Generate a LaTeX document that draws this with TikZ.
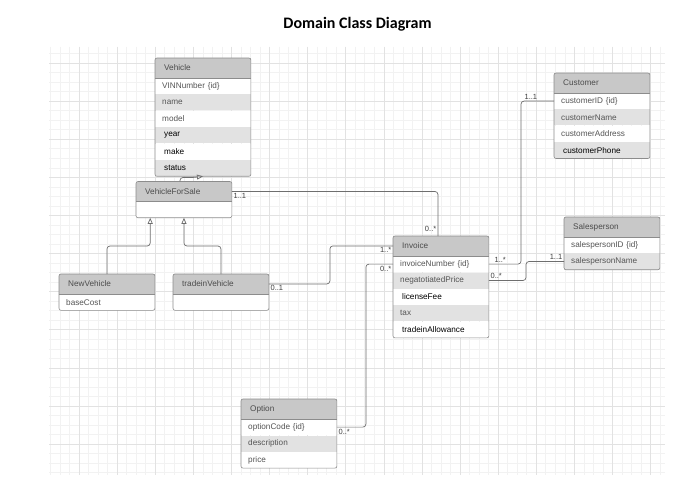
\documentclass[tikz,border=0pt]{standalone}
\usepackage{fontspec}
\setmainfont{Liberation Sans}
\newfontfamily\titlefont{Carlito}
\usetikzlibrary{arrows.meta}

\definecolor{headgray}{HTML}{C8C8C8}
\definecolor{rowgray}{HTML}{E2E2E2}
\definecolor{edgegray}{HTML}{8C8C8C}
\definecolor{linkgray}{HTML}{6E6E6E}
\definecolor{txtgray}{HTML}{555555}
\definecolor{gridminor}{HTML}{F2F2F2}
\definecolor{gridmajor}{HTML}{E2E2E2}

\tikzset{
  cls/.style={anchor=north west, minimum width=95.5pt, inner xsep=7pt, inner ysep=0pt,
    text width=81.5pt, align=left, font=\fontsize{8.2}{9.5}\selectfont, text=txtgray},
  head/.style={cls, fill=headgray, minimum height=19.5pt, inner xsep=9pt, text width=77.5pt, text=black!70},
  attr/.style={cls, fill=white, minimum height=16pt},
  attrs/.style={attr, fill=rowgray},
  dark/.style={text=black, inner xsep=9pt, text width=77.5pt},
  frame/.style={draw=edgegray, rounded corners=2pt, line width=0.6pt},
  link/.style={draw=linkgray, line width=0.7pt, rounded corners=3pt},
  gen/.style={link, -{Triangle[open, width=5pt, length=6pt]}},
  mult/.style={font=\fontsize{7.5}{8}\selectfont, text=black!75, inner sep=1.5pt},
}

\begin{document}
\begin{tikzpicture}[x=1pt, y=-1pt]
    \useasboundingbox (0,0) rectangle (679,486);
    \fill[white] (0,0) rectangle (679,486);

    % background grid (minor, then major lines)
    \foreach \i in {0,...,64} {
        \draw[gridminor, line width=0.5pt] ({50.4+9.525*\i},47) -- ({50.4+9.525*\i},475);
    }
    \foreach \j in {0,...,44} {
        \draw[gridminor, line width=0.5pt] (49,{53.5+9.525*\j}) -- (665,{53.5+9.525*\j});
    }
    \foreach \i in {0,...,15} {
        \draw[gridmajor, line width=0.6pt] ({79+38.1*\i},47) -- ({79+38.1*\i},475);
    }
    \foreach \j in {0,...,10} {
        \draw[gridmajor, line width=0.6pt] (49,{63+38.1*\j}) -- (665,{63+38.1*\j});
    }

    \node[font=\titlefont\bfseries\fontsize{16}{18}\selectfont] (title) at (357.5,24) {Domain Class Diagram};

    % Vehicle
    \node[head] (vh) at (155,58) {Vehicle};
    \node[attr] (vh-id) at (vh.south west) {VINNumber \{id\}};
    \node[attrs] (vh-name) at (vh-id.south west) {name};
    \node[attr] (vh-model) at (vh-name.south west) {model};
    \node[attrs, dark] (vh-year) at (vh-model.south west) {year};
    \node[attr, dark] (vh-make) at (vh-year.south west) {make};
    \node[attrs, dark] (vh-status) at (vh-make.south west) {status};
    \draw[frame] (vh.north west) rectangle (vh-status.south east);
    \draw[edgegray, line width=0.5pt] (vh.south west) -- (vh.south east);

    % VehicleForSale
    \node[head] (vfs) at (136,181.5) {VehicleForSale};
    \node[attr] (vfs-body) at (vfs.south west) {};
    \draw[frame] (vfs.north west) rectangle (vfs-body.south east);
    \draw[edgegray, line width=0.5pt] (vfs.south west) -- (vfs.south east);

    % NewVehicle
    \node[head] (nv) at (59,274) {NewVehicle};
    \node[attr] (nv-cost) at (nv.south west) {baseCost};
    \draw[frame] (nv.north west) rectangle (nv-cost.south east);
    \draw[edgegray, line width=0.5pt] (nv.south west) -- (nv.south east);

    % tradeinVehicle
    \node[head] (tv) at (173,274) {tradeinVehicle};
    \node[attr] (tv-body) at (tv.south west) {};
    \draw[frame] (tv.north west) rectangle (tv-body.south east);
    \draw[edgegray, line width=0.5pt] (tv.south west) -- (tv.south east);

    % Option
    \node[head] (opt) at (241,399) {Option};
    \node[attr] (opt-code) at (opt.south west) {optionCode \{id\}};
    \node[attrs] (opt-desc) at (opt-code.south west) {description};
    \node[attr] (opt-price) at (opt-desc.south west) {price};
    \draw[frame] (opt.north west) rectangle (opt-price.south east);
    \draw[edgegray, line width=0.5pt] (opt.south west) -- (opt.south east);

    % Invoice
    \node[head] (inv) at (393,236) {Invoice};
    \node[attr] (inv-num) at (inv.south west) {invoiceNumber \{id\}};
    \node[attrs] (inv-price) at (inv-num.south west) {negatotiatedPrice};
    \node[attr, dark] (inv-fee) at (inv-price.south west) {licenseFee};
    \node[attrs] (inv-tax) at (inv-fee.south west) {tax};
    \node[attr, dark] (inv-trade) at (inv-tax.south west) {tradeinAllowance};
    \draw[frame] (inv.north west) rectangle (inv-trade.south east);
    \draw[edgegray, line width=0.5pt] (inv.south west) -- (inv.south east);

    % Customer
    \node[head] (cust) at (554,73) {Customer};
    \node[attr] (cust-id) at (cust.south west) {customerID \{id\}};
    \node[attrs] (cust-name) at (cust-id.south west) {customerName};
    \node[attr] (cust-addr) at (cust-name.south west) {customerAddress};
    \node[attrs, dark] (cust-phone) at (cust-addr.south west) {customerPhone};
    \draw[frame] (cust.north west) rectangle (cust-phone.south east);
    \draw[edgegray, line width=0.5pt] (cust.south west) -- (cust.south east);

    % Salesperson
    \node[head] (sp) at (564,217) {Salesperson};
    \node[attr] (sp-id) at (sp.south west) {salespersonID \{id\}};
    \node[attrs] (sp-name) at (sp-id.south west) {salespersonName};
    \draw[frame] (sp.north west) rectangle (sp-name.south east);
    \draw[edgegray, line width=0.5pt] (sp.south west) -- (sp.south east);

    % generalisation
    \draw[gen] ([xshift=-4pt]vfs.north) -- ++(0,-4) -- ++(14,0) -- (vh-status.south);
    \draw[gen] (nv.north) -- ++(0,-28) -| ([xshift=-33.75pt]vfs-body.south);
    \draw[gen] (tv.north) -- ++(0,-28) -| (vfs-body.south);

    % associations
    \draw[link] (vfs.east) -| ([xshift=-3pt]inv.north);
    \node[mult, anchor=north west] (m-vfs) at (vfs.east) {1..1};
    \node[mult, anchor=south east] (m-inv1) at ([xshift=-3pt, yshift=3pt]inv.north) {0..*};

    \draw[link] (tv.east) -- ++(61,0) |- (inv.west);
    \node[mult, anchor=north west] (m-tv) at (tv.east) {0..1};
    \node[mult, anchor=north east] (m-inv2) at (inv.west) {1..*};

    \draw[link] (opt-code.east) -- ++(29,0) |- (inv-num.west);
    \node[mult, anchor=north west] (m-opt) at (opt-code.east) {0..*};
    \node[mult, anchor=north east] (m-inv3) at (inv-num.west) {0..*};

    \draw[link] (cust-id.west) -- node[mult, above, pos=0.7] (m-cust) {1..1} ++(-33,0) |- (inv-num.east);
    \node[mult, anchor=south west] (m-inv4) at ([xshift=4pt]inv-num.east) {1..*};

    \draw[link] (sp-name.west) -- ++(-38,0) |- (inv-price.east);
    \node[mult, anchor=south east] (m-sp) at (sp-name.west) {1..1};
    \node[mult, anchor=south west] (m-inv5) at (inv-price.east) {0..*};
\end{tikzpicture}
\end{document}
